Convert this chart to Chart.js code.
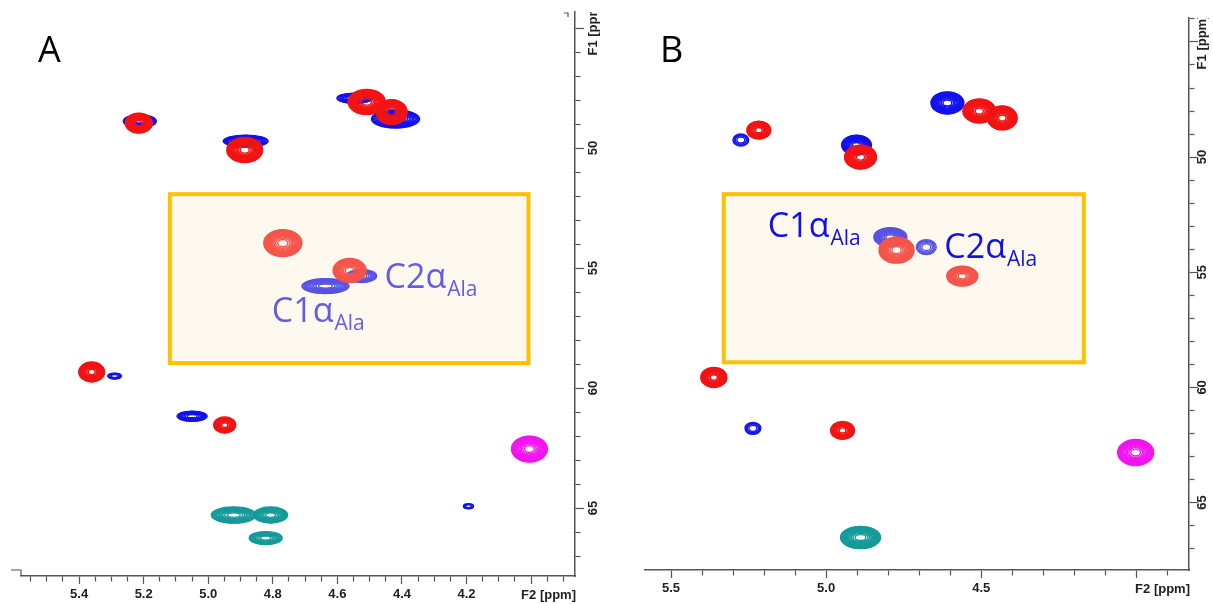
<!DOCTYPE html>
<html>
<head>
<meta charset="utf-8">
<script src="https://cdn.jsdelivr.net/npm/chart.js@4.4.0/dist/chart.umd.min.js"></script>
<style>
  html, body { margin: 0; padding: 0; background: #fff; }
  body { width: 1213px; height: 604px; position: relative; overflow: hidden; }
  canvas { position: absolute; top: 0; }
  #chartA { left: 0; }
  #chartB { left: 606px; }
</style>
</head>
<body>
<canvas id="chartA" width="606" height="604"></canvas>
<canvas id="chartB" width="607" height="604"></canvas>
<script>
// each peak: [F2 ppm, F1 ppm, width F2 (ppm), width F1 (ppm), contour levels]
const aBlue = [
  [5.212, 48.88, 0.102, 0.54, 12],
  [4.884, 49.71, 0.139, 0.50, 12],
  [4.546, 47.92, 0.111, 0.42, 10],
  [4.420, 48.79, 0.149, 0.75, 12],
  [4.637, 55.75, 0.146, 0.62, 12],
  [4.525, 55.33, 0.093, 0.54, 8],
  [5.290, 59.50, 0.043, 0.25, 4],
  [5.050, 61.17, 0.093, 0.42, 10],
  [4.194, 64.92, 0.031, 0.21, 3]
];
const aRed = [
  [5.215, 48.96, 0.084, 0.83, 14],
  [4.887, 50.08, 0.111, 1.04, 16],
  [4.509, 48.08, 0.115, 1.04, 16],
  [4.432, 48.50, 0.096, 1.04, 16],
  [4.769, 53.96, 0.118, 1.12, 14],
  [4.562, 55.10, 0.102, 1.00, 14],
  [5.361, 59.33, 0.080, 0.83, 14],
  [4.949, 61.54, 0.068, 0.67, 12]
];
const aTeal = [
  [4.921, 65.29, 0.139, 0.67, 12],
  [4.807, 65.29, 0.105, 0.67, 12],
  [4.822, 66.25, 0.102, 0.54, 10]
];
const aMagenta = [[4.005, 62.54, 0.111, 1.08, 14]];

const bBlue = [
  [5.275, 49.26, 0.051, 0.52, 4],
  [4.902, 49.48, 0.096, 0.87, 14],
  [4.609, 47.65, 0.106, 0.96, 14],
  [4.793, 53.48, 0.106, 0.83, 14],
  [4.677, 53.91, 0.064, 0.65, 5],
  [5.236, 61.78, 0.051, 0.52, 4]
];
const bRed = [
  [5.217, 48.83, 0.077, 0.78, 12],
  [4.889, 50.00, 0.103, 1.04, 16],
  [4.506, 48.00, 0.106, 1.04, 16],
  [4.432, 48.30, 0.096, 1.04, 16],
  [4.773, 54.04, 0.113, 1.13, 14],
  [4.561, 55.17, 0.100, 0.87, 14],
  [5.362, 59.57, 0.084, 0.87, 14],
  [4.947, 61.87, 0.077, 0.78, 12]
];
const bTeal = [[4.889, 66.52, 0.129, 0.96, 14]];
const bMagenta = [[4.002, 62.83, 0.116, 1.13, 14]];

// tick labels
const aF2Labels = [5.4, 5.2, 5.0, 4.8, 4.6, 4.4, 4.2];
const bF2Labels = [5.5, 5.0, 4.5];
const f1Labels = [50, 55, 60, 65];

const BLUE = '#1212ee', RED = '#f21414', TEAL = '#169a9a', MAGENTA = '#f214ee';
const AXIS = '#555', TXT = '#222';
const TICKFONT = { family: '"Liberation Sans", Arial, sans-serif', size: 13, weight: 'bold' };

function toPoints(list) {
  return list.map(p => ({ x: p[0], y: p[1], w: p[2], h: p[3], n: p[4] }));
}
function isTick(list, v) {
  return list.some(t => Math.abs(t - v) < 1e-6);
}

function drawPeak(ctx, xs, ys, p) {
  const cx = xs.getPixelForValue(p.x), cy = ys.getPixelForValue(p.y);
  const rx = Math.abs(xs.getPixelForValue(p.x + p.w / 2) - cx);
  const ry = Math.abs(ys.getPixelForValue(p.y + p.h / 2) - cy);
  for (let i = 0; i < p.n; i++) {
    const s = Math.sqrt(1 - i / p.n);
    ctx.beginPath();
    ctx.ellipse(cx, cy, rx * s, ry * s, 0, 0, Math.PI * 2);
    ctx.stroke();
  }
}

function drawLabel(ctx, xs, ys, lbl, color) {
  const px = xs.getPixelForValue(lbl.x), py = ys.getPixelForValue(lbl.y);
  ctx.fillStyle = color;
  ctx.textAlign = 'left';
  ctx.textBaseline = 'alphabetic';
  ctx.font = '34px "Open Sans"';
  ctx.fillText(lbl.text, px, py);
  const w = ctx.measureText(lbl.text).width;
  ctx.font = '21px "Open Sans"';
  ctx.fillText(lbl.sub, px + w + 1, py + 8);
}

const spectrumPlugin = {
  id: 'spectrum',
  afterDatasetsDraw(chart, args, opts) {
    const { ctx, chartArea: ca } = chart;
    const xs = chart.scales.x, ys = chart.scales.y;
    ctx.save();
    ctx.beginPath();
    ctx.rect(ca.left, ca.top, ca.right - ca.left, ca.bottom - ca.top);
    ctx.clip();
    chart.data.datasets.forEach(ds => {
      ctx.strokeStyle = ds.borderColor;
      ctx.lineWidth = 1.4;
      ds.data.forEach(p => drawPeak(ctx, xs, ys, p));
    });
    if (!opts.labelsOnTop) opts.labels.forEach(l => drawLabel(ctx, xs, ys, l, opts.labelColor));
    // highlight box
    const b = opts.box;
    const x1 = xs.getPixelForValue(b[0]), x2 = xs.getPixelForValue(b[1]);
    const y1 = ys.getPixelForValue(b[2]), y2 = ys.getPixelForValue(b[3]);
    ctx.fillStyle = 'rgba(253, 235, 202, 0.3)';
    ctx.fillRect(x1, y1, x2 - x1, y2 - y1);
    ctx.strokeStyle = '#ffc000';
    ctx.lineWidth = 4;
    ctx.strokeRect(x1, y1, x2 - x1, y2 - y1);
    if (opts.labelsOnTop) opts.labels.forEach(l => drawLabel(ctx, xs, ys, l, opts.labelColor));
    ctx.restore();
  },
  afterDraw(chart, args, opts) {
    const { ctx, chartArea: ca } = chart;
    const ys = chart.scales.y;
    ctx.save();
    // rotated F1 labels
    ctx.beginPath();
    ctx.rect(ca.right, ca.top, chart.width - ca.right, chart.height - ca.top);
    ctx.clip();
    ctx.fillStyle = TXT;
    ctx.font = 'bold 13px "Liberation Sans", Arial, sans-serif';
    ctx.textAlign = 'center';
    ctx.textBaseline = 'middle';
    ys.ticks.forEach(t => {
      let text = null;
      if (isTick(f1Labels, t.value)) text = String(Math.round(t.value));
      else if (Math.abs(t.value - 45) < 1e-6) text = 'F1 [ppm]';
      if (!text) return;
      ctx.save();
      ctx.translate(ca.right + opts.f1Offset, ys.getPixelForValue(t.value));
      ctx.rotate(-Math.PI / 2);
      ctx.fillText(text, 0, 0);
      ctx.restore();
    });
    ctx.restore();

    ctx.save();
    ctx.fillStyle = TXT;
    ctx.font = 'bold 13px "Liberation Sans", Arial, sans-serif';
    ctx.textAlign = 'right';
    ctx.textBaseline = 'middle';
    ctx.fillText('F2 [ppm]', ca.right + 1, ca.bottom + opts.f2Offset);

    // panel letter
    ctx.fillStyle = '#000';
    ctx.font = '36px "Open Sans"';
    ctx.textAlign = 'left';
    ctx.textBaseline = 'alphabetic';
    ctx.fillText(opts.letter, opts.letterX, 62);

    // small frame marks
    if (opts.marks) {
      ctx.strokeStyle = AXIS;
      ctx.lineWidth = 1.2;
      ctx.beginPath();
      ctx.moveTo(ca.left - 10, ca.bottom - 6);
      ctx.lineTo(ca.left, ca.bottom - 6);
      ctx.lineTo(ca.left, ca.bottom);
      ctx.moveTo(ca.right - 11, ca.top + 1);
      ctx.lineTo(ca.right - 7, ca.top + 1);
      ctx.lineTo(ca.right - 7, ca.top + 5);
      ctx.stroke();
    }
    ctx.restore();
  }
};

function makeChart(id, p) {
  return new Chart(document.getElementById(id), {
    type: 'scatter',
    data: {
      datasets: p.series.map(s => ({
        label: s.name,
        data: toPoints(s.peaks),
        borderColor: s.color,
        backgroundColor: s.color,
        pointRadius: 0,
        pointHoverRadius: 0
      }))
    },
    options: {
      responsive: false,
      animation: false,
      devicePixelRatio: 1,
      events: [],
      layout: { padding: p.padding },
      plugins: {
        legend: { display: false },
        tooltip: { enabled: false },
        spectrum: p.extra
      },
      scales: {
        x: {
          type: 'linear', position: 'bottom', reverse: true,
          min: p.xMin, max: p.xMax,
          afterFit: s => { s.height = p.xAxisH; },
          border: { display: true, color: AXIS, width: 1.5 },
          grid: {
            drawOnChartArea: false, drawTicks: true, tickLength: 8,
            tickColor: AXIS, tickWidth: 1.2,
            tickBorderDash: c => (c.tick && isTick(p.xMajor, c.tick.value)) ? [] : [5, 20]
          },
          ticks: {
            stepSize: p.xStep, autoSkip: false, includeBounds: false,
            maxRotation: 0, minRotation: 0, padding: 3,
            color: TXT, font: TICKFONT,
            callback: v => isTick(p.xLabels, v) ? v.toFixed(1) : ''
          }
        },
        y: {
          type: 'linear', position: 'right', reverse: true,
          min: p.yMin, max: p.yMax,
          afterFit: s => { s.width = p.yAxisW; },
          border: { display: true, color: AXIS, width: 1.5 },
          grid: {
            drawOnChartArea: false, drawTicks: true, tickLength: 9,
            tickColor: AXIS, tickWidth: 1.2,
            tickBorderDash: c => (c.tick && Math.round(c.tick.value) % 5 === 0) ? [] : [5, 20]
          },
          ticks: { stepSize: 1, autoSkip: false, includeBounds: false, display: false }
        }
      }
    },
    plugins: [spectrumPlugin]
  });
}

makeChart('chartA', {
  series: [
    { name: 'blue', peaks: aBlue, color: BLUE },
    { name: 'red', peaks: aRed, color: RED },
    { name: 'teal', peaks: aTeal, color: TEAL },
    { name: 'magenta', peaks: aMagenta, color: MAGENTA }
  ],
  padding: { left: 21, top: 12, right: 0, bottom: 0 },
  xMin: 3.864, xMax: 5.58, xStep: 0.05,
  xLabels: aF2Labels, xMajor: aF2Labels.concat([4.0]),
  yMin: 44.33, yMax: 67.83,
  xAxisH: 28, yAxisW: 31,
  extra: {
    box: [5.119, 4.008, 51.92, 58.96],
    labels: [
      { text: 'C2α', sub: 'Ala', x: 4.454, y: 55.83 },
      { text: 'C1α', sub: 'Ala', x: 4.803, y: 57.25 }
    ],
    labelsOnTop: false, labelColor: '#2020f0',
    f1Offset: 18, f2Offset: 19,
    letter: 'A', letterX: 38, marks: true
  }
});

makeChart('chartB', {
  series: [
    { name: 'blue', peaks: bBlue, color: BLUE },
    { name: 'red', peaks: bRed, color: RED },
    { name: 'teal', peaks: bTeal, color: TEAL },
    { name: 'magenta', peaks: bMagenta, color: MAGENTA }
  ],
  padding: { left: 39, top: 18, right: 0, bottom: 0 },
  xMin: 3.83, xMax: 5.584, xStep: 0.1,
  xLabels: bF2Labels, xMajor: bF2Labels.concat([4.0]),
  yMin: 43.96, yMax: 67.93,
  xAxisH: 34, yAxisW: 24,
  extra: {
    box: [5.330, 4.169, 51.61, 58.91],
    labels: [
      { text: 'C1α', sub: 'Ala', x: 5.188, y: 53.48 },
      { text: 'C2α', sub: 'Ala', x: 4.619, y: 54.39 }
    ],
    labelsOnTop: true, labelColor: '#1010e8',
    f1Offset: 13, f2Offset: 19,
    letter: 'B', letterX: 54, marks: false
  }
});
</script>
</body>
</html>
